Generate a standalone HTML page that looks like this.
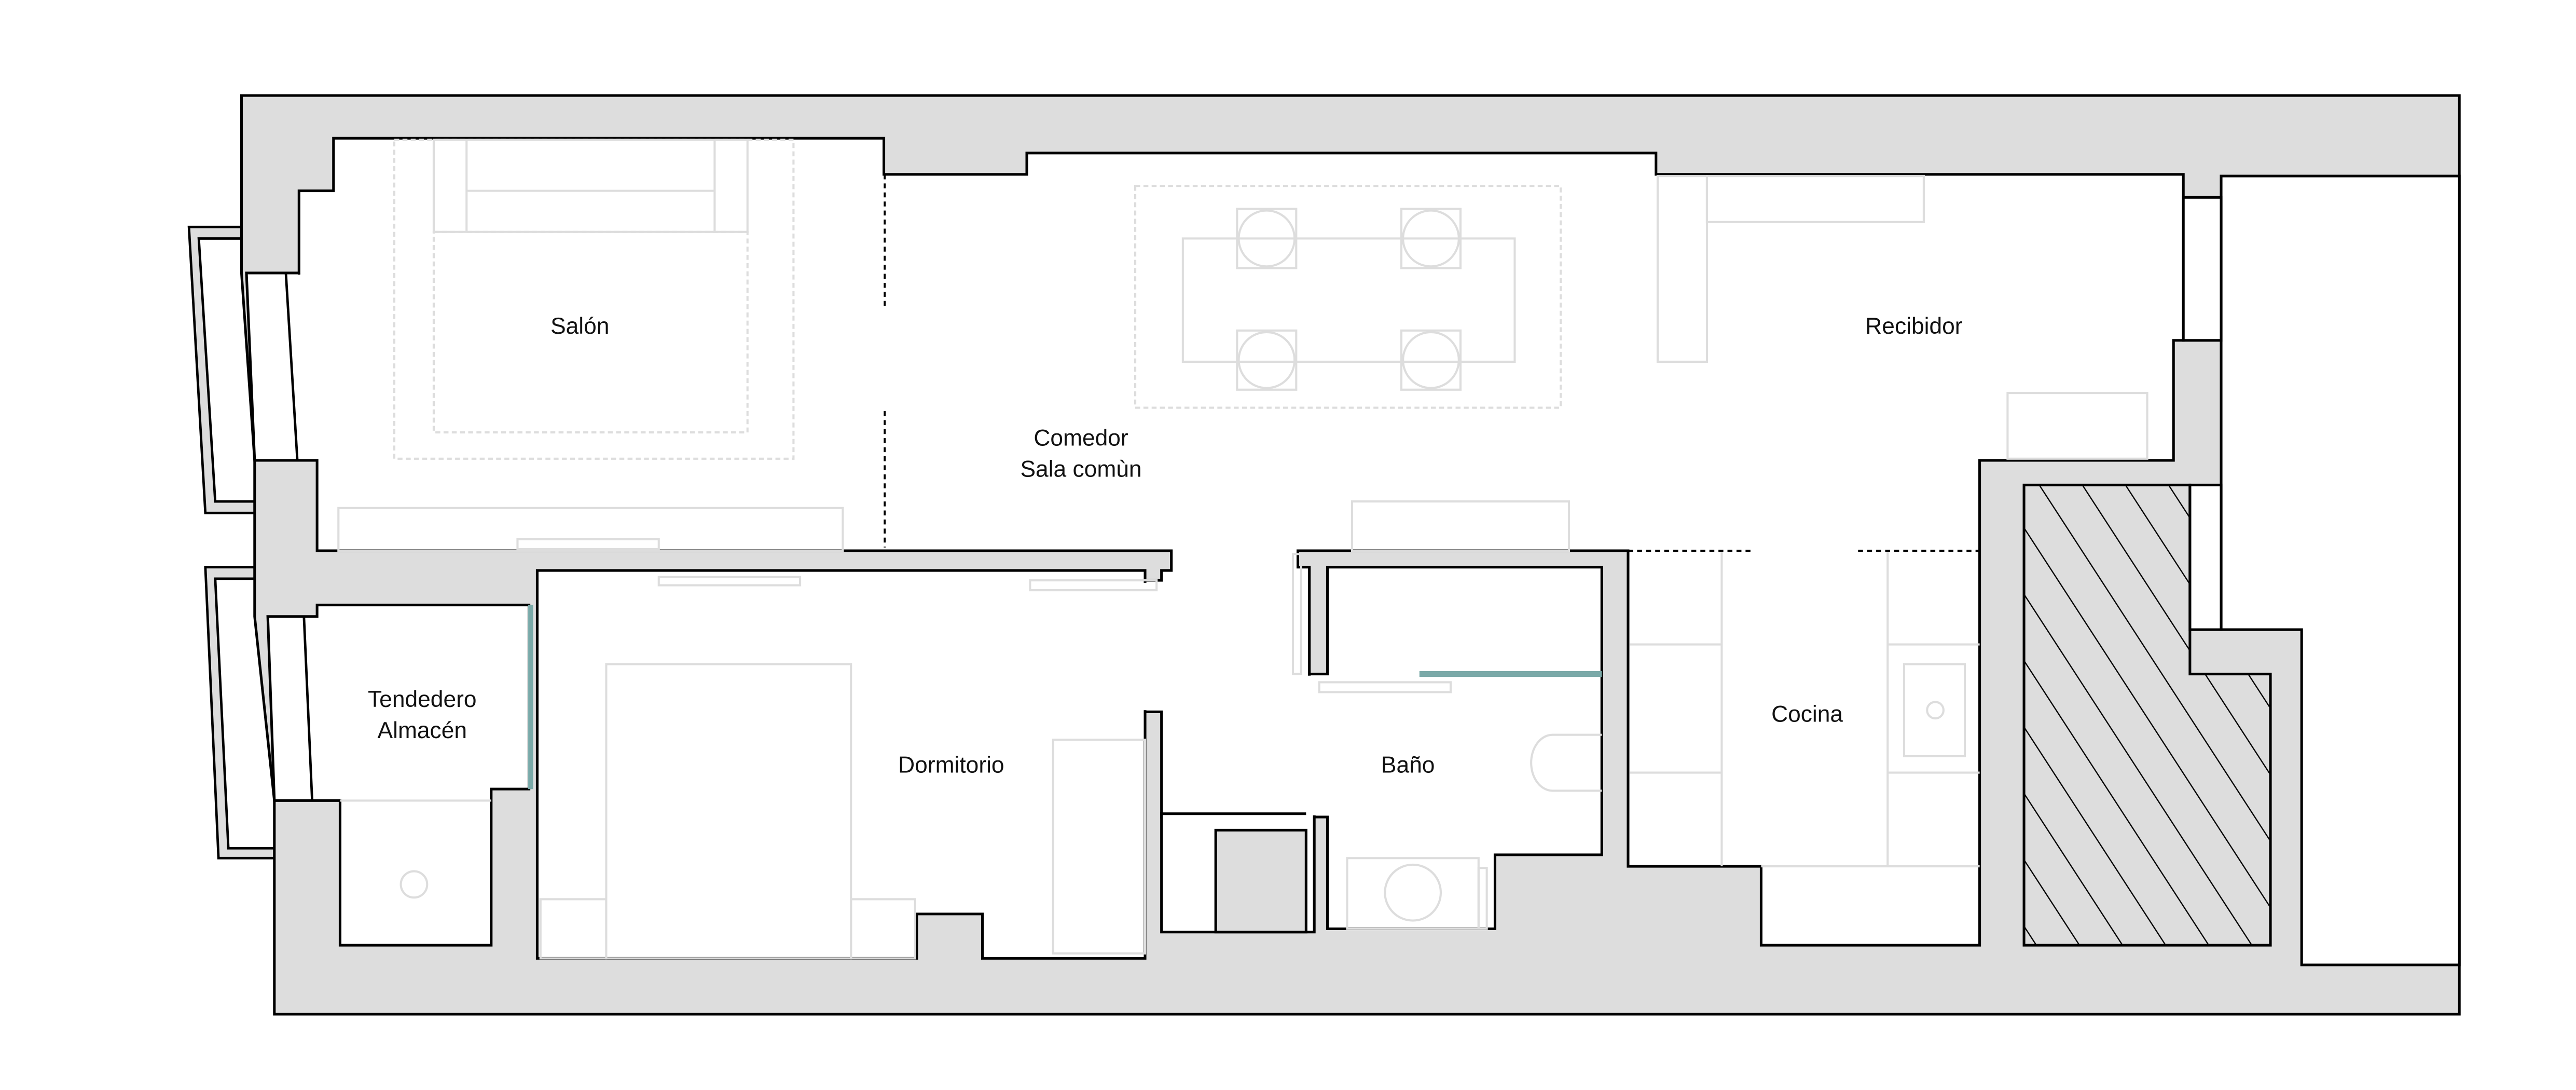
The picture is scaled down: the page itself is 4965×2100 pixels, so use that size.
<!DOCTYPE html>
<html><head><meta charset="utf-8"><style>html,body{margin:0;padding:0;background:#fff}svg{display:block}text{font-family:"Liberation Sans",sans-serif;font-size:14px;fill:#111;text-anchor:middle}</style></head>
<body>
<svg width="4965" height="2100" viewBox="0 0 1568 663" xmlns="http://www.w3.org/2000/svg">
<defs>
<pattern id="h" patternUnits="userSpaceOnUse" width="22" height="22" patternTransform="rotate(-33)">
<line x1="0" y1="0" x2="0" y2="22" stroke="#000" stroke-width="1.5"/>
</pattern>
</defs>
<rect width="1568" height="663" fill="#fff"/>
<!-- left window frames -->
<polygon points="115,138 147,138 147,145 121,145 131,305 155,305 155,312 125,312" fill="#ddd" stroke="#000" stroke-width="1.5"/>
<polygon points="125,345 155,345 155,352 131,352 139,516 167,516 167,522 133,522" fill="#ddd" stroke="#000" stroke-width="1.5"/>
<!-- building -->
<polygon points="147,58 1497,58 1497,617 167,617 167,487 155,375 155,280 147,166" fill="#ddd" stroke="#000" stroke-width="1.6"/>
<g fill="#fff" stroke="#000" stroke-width="1.6">
<!-- main space -->
<polygon points="150,166 182,166 182,116 203,116 203,84 538,84 538,106 625,106 625,93 1008,93 1008,106 1329,106 1329,207 1323,207 1323,280 1205,280 1205,575 1072,575 1072,527 991,527 991,335 790,335 790,345 797,345 797,497 707,497 707,433 697,433 697,353 707,353 707,347 713,347 713,335 193,335 193,280 155,280"/>
<!-- dormitorio -->
<polygon points="327,347 697,347 697,583 598,583 598,556 558,556 558,583 327,583"/>
<!-- bathroom -->
<polygon points="808,345 975,345 975,520 910,520 910,565 808,565 808,497 797,497 797,410 808,410"/>
<!-- tendedero -->
<polygon points="193,368 322,368 322,480 299,480 299,575 207,575 207,487 167,487 163,375 193,375"/>
<!-- closet -->
<rect x="707" y="495" width="93" height="72"/>
<!-- right outside -->
<polygon points="1352,107 1497,107 1497,587 1401,587 1401,383 1352,383"/>
<rect x="1329" y="120" width="23" height="87"/>
<rect x="1333" y="295" width="19" height="88"/>
</g>
<line x1="174" y1="166" x2="181" y2="280" stroke="#000" stroke-width="1.5"/>
<line x1="185" y1="375" x2="190" y2="487" stroke="#000" stroke-width="1.5"/>
<line x1="182" y1="166" x2="182" y2="167" stroke="#000" stroke-width="1.5"/>
<rect x="740" y="505" width="55" height="62" fill="#ddd" stroke="#000" stroke-width="1.6"/>
<line x1="800" y1="497" x2="800" y2="567" stroke="#000" stroke-width="1.5"/>
<!-- seam covers -->
<g fill="#fff">
<rect x="694" y="354.5" width="15" height="77.5"/>
<rect x="795" y="411" width="14" height="85"/>
</g>
<!-- hatch -->
<polygon points="1232,295 1333,295 1333,410 1382,410 1382,575 1232,575" fill="url(#h)" stroke="#000" stroke-width="1.6"/>
<!-- teal partitions -->
<line x1="323" y1="368" x2="323" y2="480" stroke="#7aa9a8" stroke-width="3"/>
<line x1="864" y1="410" x2="975" y2="410" stroke="#7aa9a8" stroke-width="3.5"/>
<!-- dashed lines -->
<g stroke="#000" stroke-width="1.2" stroke-dasharray="3,2.5">
<line x1="538.5" y1="106" x2="538.5" y2="186"/>
<line x1="538.5" y1="250" x2="538.5" y2="333"/>
<line x1="991" y1="335" x2="1068" y2="335"/>
<line x1="1131" y1="335" x2="1205" y2="335"/>
</g>
<!-- furniture -->
<g fill="none" stroke="#ddd" stroke-width="1.3">
<rect x="240" y="85" width="243" height="194" stroke-dasharray="3,2"/>
<rect x="264" y="141" width="191" height="122" stroke-dasharray="3,2"/>
<rect x="264" y="85" width="191" height="56"/>
<line x1="284" y1="85" x2="284" y2="141"/><line x1="435" y1="85" x2="435" y2="141"/>
<line x1="284" y1="116" x2="435" y2="116"/>
<rect x="206" y="309" width="307" height="26"/>
<rect x="315" y="328" width="86" height="6"/>
<rect x="691" y="113" width="259" height="135" stroke-dasharray="3,2"/>
<rect x="720" y="145" width="202" height="75"/>
<rect x="753" y="127" width="36" height="36"/><circle cx="771" cy="145" r="17"/>
<rect x="853" y="127" width="36" height="36"/><circle cx="871" cy="145" r="17"/>
<rect x="753" y="201" width="36" height="36"/><circle cx="771" cy="219" r="17"/>
<rect x="853" y="201" width="36" height="36"/><circle cx="871" cy="219" r="17"/>
<rect x="1009" y="107" width="30" height="113"/>
<rect x="1039" y="107" width="132" height="28"/>
<rect x="1222" y="239" width="85" height="40"/>
<rect x="369" y="404" width="149" height="179"/>
<rect x="329" y="547" width="40" height="36"/>
<rect x="518" y="547" width="39" height="36"/>
<rect x="641" y="450" width="56" height="130"/>
<rect x="401" y="351" width="86" height="5"/>
<rect x="627" y="353" width="77" height="6"/>
<rect x="823" y="305" width="132" height="30"/>
<rect x="787" y="337" width="5" height="73"/>
<rect x="803" y="415" width="80" height="6"/>
<path d="M975,447 L945,447 A13,17 0 0 0 945,481 L975,481"/>
<rect x="820" y="522" width="80" height="43"/>
<rect x="900" y="528" width="5" height="37"/>
<circle cx="860" cy="543" r="17"/>
<line x1="1048" y1="336" x2="1048" y2="527"/>
<line x1="1149" y1="336" x2="1149" y2="527"/>
<line x1="992" y1="392" x2="1048" y2="392"/><line x1="992" y1="470" x2="1048" y2="470"/>
<line x1="1149" y1="392" x2="1205" y2="392"/><line x1="1149" y1="470" x2="1205" y2="470"/>
<line x1="1072" y1="527" x2="1205" y2="527"/>
<rect x="1159" y="404" width="37" height="56"/>
<circle cx="1178" cy="432" r="5"/>
<line x1="207" y1="487" x2="299" y2="487"/>
<circle cx="252" cy="538" r="8"/>
</g>
<text x="353" y="203">Salón</text>
<text x="658" y="271">Comedor</text>
<text x="658" y="290">Sala comùn</text>
<text x="1165" y="203">Recibidor</text>
<text x="257" y="430">Tendedero</text>
<text x="257" y="449">Almacén</text>
<text x="579" y="470">Dormitorio</text>
<text x="857" y="470">Baño</text>
<text x="1100" y="439">Cocina</text>
</svg>
</body></html>
